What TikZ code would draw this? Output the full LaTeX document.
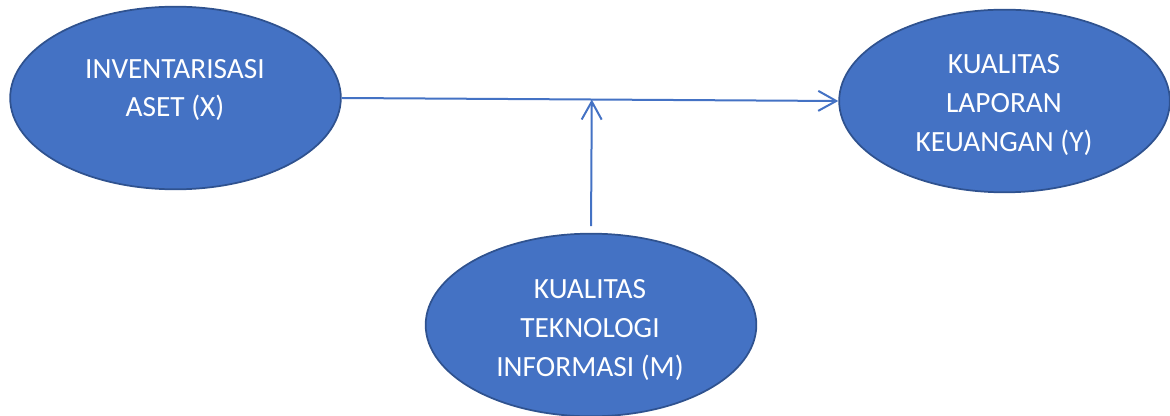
\documentclass[tikz,border=0pt]{standalone}
\usepackage{fontspec}
\setmainfont{Carlito}
\usetikzlibrary{shapes.geometric,arrows.meta,calc}
\definecolor{fillblue}{HTML}{4472C4}
\definecolor{edgeblue}{HTML}{2F528F}
\begin{document}
\begin{tikzpicture}[x=0.75pt,y=-0.75pt,
  blob/.style={ellipse,draw=edgeblue,line width=1.3pt,fill=fillblue,inner sep=0pt,
     minimum width=248pt,minimum height=137pt},
  lbl/.style={text=white,align=center,font=\fontsize{22}{29}\selectfont,inner sep=0pt},
  link/.style={draw=fillblue,line width=1.5pt,-{Straight Barb[length=13.5pt,width=15pt,line width=1.5pt]}}]
\useasboundingbox (0,0) rectangle (1170,416);
\node[blob] (X) at (175.5,98) {};
\node[blob] (Y) at (1004.5,101) {};
\node[blob] (M) at (591,325) {};
\node[lbl] (xt) at (175,90) {INVENTARISASI\\ASET (X)};
\node[lbl] (yt) at (1004,105) {KUALITAS\\LAPORAN\\KEUANGAN (Y)};
\node[lbl] (mt) at (590,330) {KUALITAS\\TEKNOLOGI\\INFORMASI (M)};
\coordinate (J) at ($(X.east)!(M.north)!(Y.west)$);
\draw[link] (X.east) -- (Y.west);
\draw[link,shorten <=5pt] (M.north) -- (J);
\end{tikzpicture}
\end{document}
